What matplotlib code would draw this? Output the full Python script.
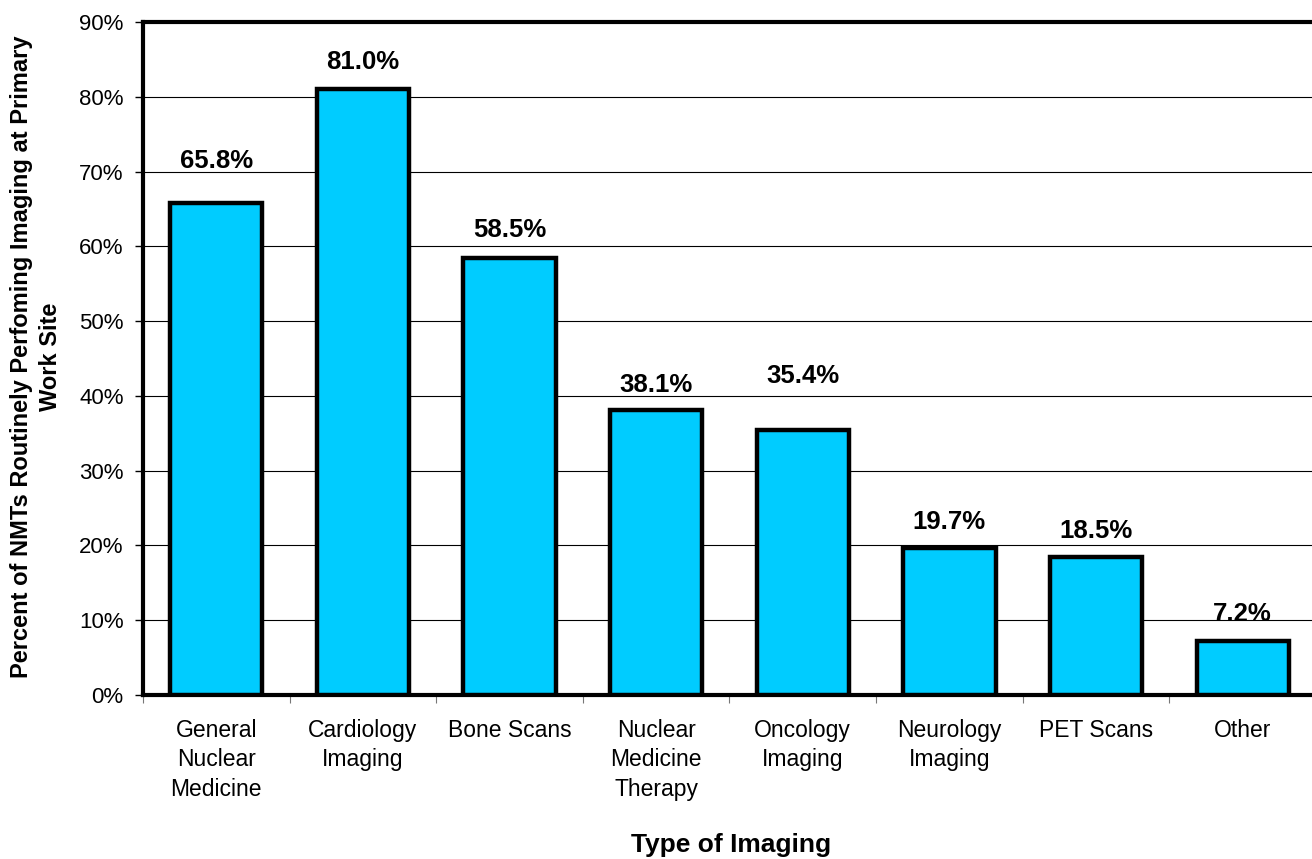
import matplotlib
matplotlib.use("Agg")
import matplotlib.pyplot as plt
from matplotlib.ticker import MultipleLocator, FuncFormatter, FixedLocator

plt.rcParams['font.family'] = ['Liberation Sans', 'DejaVu Sans']

categories = ["General\nNuclear\nMedicine", "Cardiology\nImaging", "Bone Scans",
              "Nuclear\nMedicine\nTherapy", "Oncology\nImaging", "Neurology\nImaging",
              "PET Scans", "Other"]
values = [65.8, 81.0, 58.5, 38.1, 35.4, 19.7, 18.5, 7.2]
# vertical offset of each value label's centre above its bar, in points
label_offsets = [32, 21.5, 21.5, 20, 41, 20, 20, 21]

W, H = 1312, 859
fig = plt.figure(figsize=(W / 100, H / 100), dpi=100)
left, right, top, bottom = 143, 1316, 22, 695
ax = fig.add_axes([left / W, 1 - bottom / H, (right - left) / W, (bottom - top) / H])

x = list(range(len(values)))
ax.bar(x, values, width=0.63, color="#00CCFF", edgecolor="black",
       linewidth=3.2, zorder=3)

for xi, v, off in zip(x, values, label_offsets):
    ax.annotate(f"{v:.1f}%", xy=(xi, v), xytext=(0, off), textcoords="offset points",
                ha="center", va="center_baseline", fontsize=18.5, fontweight="bold",
                zorder=4)

ax.set_xlim(-0.5, len(values) - 0.5)
ax.set_ylim(0, 90)
ax.yaxis.set_major_locator(MultipleLocator(10))
ax.yaxis.set_major_formatter(FuncFormatter(lambda v, p: f"{v:.0f}%"))
ax.grid(axis="y", color="black", linewidth=0.8, zorder=0)
ax.set_axisbelow(True)

ax.set_xticks(x)
ax.set_xticklabels(categories, fontsize=16.5, linespacing=1.36)
ax.xaxis.set_minor_locator(FixedLocator([i - 0.5 for i in range(len(values) + 1)]))
ax.tick_params(axis="x", which="major", length=0, pad=17)
ax.tick_params(axis="x", which="minor", length=6, width=0.8, color="#777777")
ax.tick_params(axis="y", labelsize=16, length=6, width=1, pad=8)

for side in ["left", "bottom", "top", "right"]:
    ax.spines[side].set_linewidth(3)
    ax.spines[side].set_color("black")

fig.text(731 / W, 1 - 852 / H, "Type of Imaging", ha="center", va="baseline",
         fontsize=19, fontweight="bold")
fig.text(36 / W, 1 - 357 / H,
         "Percent of NMTs Routinely Perfoming Imaging at Primary\nWork Site",
         rotation=90, ha="center", va="center", fontsize=17, fontweight="bold",
         linespacing=1.32)

fig.savefig("out.png", dpi=100)
